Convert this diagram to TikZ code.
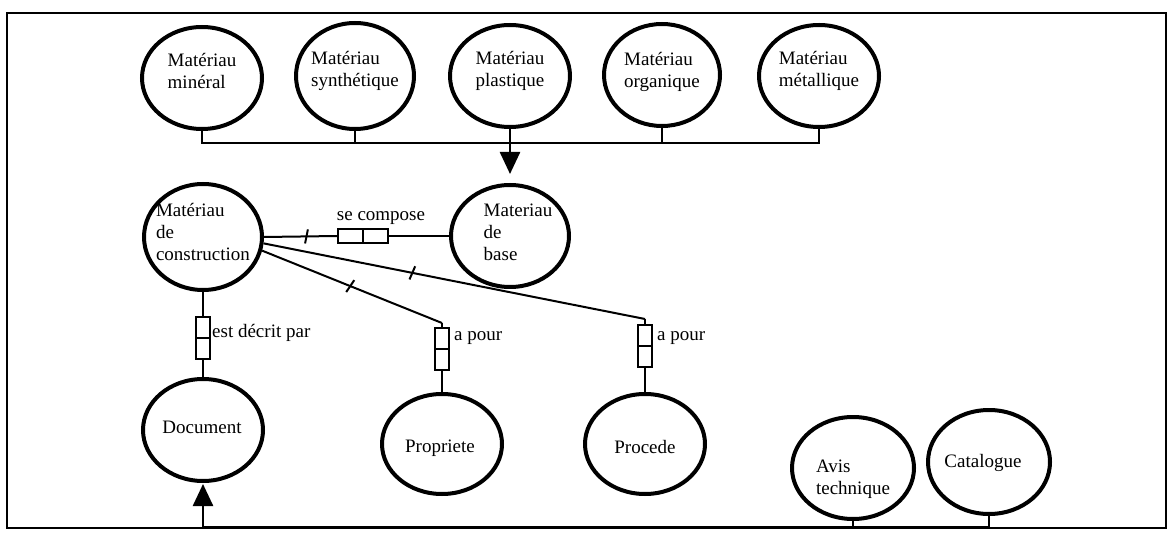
\documentclass[tikz,border=0pt]{standalone}
\usepackage{fontspec}
\setmainfont{Liberation Serif}
\usetikzlibrary{shapes.geometric,arrows.meta,decorations.markings}
\begin{document}
\begin{tikzpicture}[x=1pt,y=-1pt,
  circ/.style={ellipse, draw, line width=4pt, inner sep=0pt, minimum width=120pt, minimum height=102pt},
  txt/.style={font=\fontsize{19}{22}\selectfont, align=left, inner sep=0pt},
  vhalf/.style={draw, line width=1.5pt, minimum width=14pt, minimum height=21pt, inner sep=0pt},
  hhalf/.style={draw, line width=1.5pt, minimum width=25pt, minimum height=14pt, inner sep=0pt},
  conn/.style={line width=2pt},
  bus/.style={line width=2.5pt},
  tickat/.style={postaction={decorate}, decoration={markings, mark=at position #1 with {\draw[line width=2pt] (-1.5pt,-7pt) -- (1.5pt,7pt);}}},
  tip/.style={-{Triangle[width=20pt,length=22pt]}}
]
\useasboundingbox (0,0) rectangle (1169,534);
\draw[line width=1.2pt] (7,13) rectangle (1166,528);

% top row
\node[circ] (m1) at (202,78) {};
\node[txt] (t1) at (202,71) {Matériau\\minéral};
\node[circ, minimum width=118pt, minimum height=106pt] (m2) at (355,76) {};
\node[txt] (t2) at (355,71) {Matériau\\synthétique};
\node[circ] (m3) at (510,76) {};
\node[txt] (t3) at (510,71) {Matériau\\plastique};
\node[circ, minimum width=116pt] (m4) at (662,75) {};
\node[txt] (t4) at (662,72) {Matériau\\organique};
\node[circ] (m5) at (819,76) {};
\node[txt] (t5) at (819,71) {Matériau\\métallique};

% middle
\node[circ, minimum width=118pt, minimum height=106pt] (constr) at (203,237) {};
\node[txt] (tc) at (203,232) {Matériau\\de\\construction};
\node[circ, minimum width=118pt] (base) at (510,236) {};
\node[txt] (tb) at (518,232) {Materiau\\de\\base};

% lower
\node[circ] (doc) at (203,430) {};
\node[txt] (td) at (202,427) {Document};
\node[circ, minimum height=100pt] (prop) at (442,444) {};
\node[txt] (tp) at (440,448) {Propriete};
\node[circ, minimum height=100pt] (proc) at (645,444) {};
\node[txt] (tq) at (645,447) {Procede};
\node[circ, minimum width=122pt] (avis) at (853,468) {};
\node[txt] (ta) at (853,479) {Avis\\technique};
\node[circ, minimum width=122pt, minimum height=104pt] (cat) at (989,462) {};
\node[txt] (tk) at (983,463) {Catalogue};

% relation boxes
\node[hhalf] (sc1) at (350.5,236) {};
\node[hhalf] (sc2) at (375.5,236) {};
\node[txt] (lsc) at (381,218) {se compose};
\node[vhalf] (d1) at (203,327.5) {};
\node[vhalf] (d2) at (203,348.5) {};
\node[txt, anchor=west] (led) at (212,333) {est décrit par};
\node[vhalf] (p1) at (442,338.5) {};
\node[vhalf] (p2) at (442,359.5) {};
\node[txt, anchor=west] (lp) at (454,338) {a pour};
\node[vhalf] (q1) at (645,335.5) {};
\node[vhalf] (q2) at (645,356.5) {};
\node[txt, anchor=west] (lq) at (657,338) {a pour};

% top bus
\coordinate (bus) at (510,143);
\draw[bus] (m1.south) |- (bus) -| (m5.south);
\draw[bus] (m2.south) -- (m2.south |- bus);
\draw[bus] (m3.south) -- (bus);
\draw[bus] (m4.south) -- (m4.south |- bus);
\draw[bus, tip, shorten >=9pt] (bus) -- (base.north);

% bottom bus
\coordinate (bbus) at (203,527);
\draw[bus] (avis.south) -- (avis.south |- bbus);
\draw[bus, tip, shorten >=1pt] (cat.south) |- (bbus) -- (doc.south);

% connectors
\draw[conn, tickat=0.58] (constr.east) -- (sc1.west);
\draw[conn] (sc2.east) -- (base.west);
\draw[conn] (constr.south) -- (d1.north);
\draw[conn] (d2.south) -- (doc.north);
\coordinate (pk) at (442,323);
\draw[conn, tickat=0.49] (constr.-13) -- (pk);
\draw[conn] (pk) -- (p1.north);
\draw[conn] (p2.south) -- (prop.north);
\coordinate (qk) at (645,319);
\draw[conn, tickat=0.39] (constr.-6) -- (qk);
\draw[conn] (qk) -- (q1.north);
\draw[conn] (q2.south) -- (proc.north);
\end{tikzpicture}
\end{document}
